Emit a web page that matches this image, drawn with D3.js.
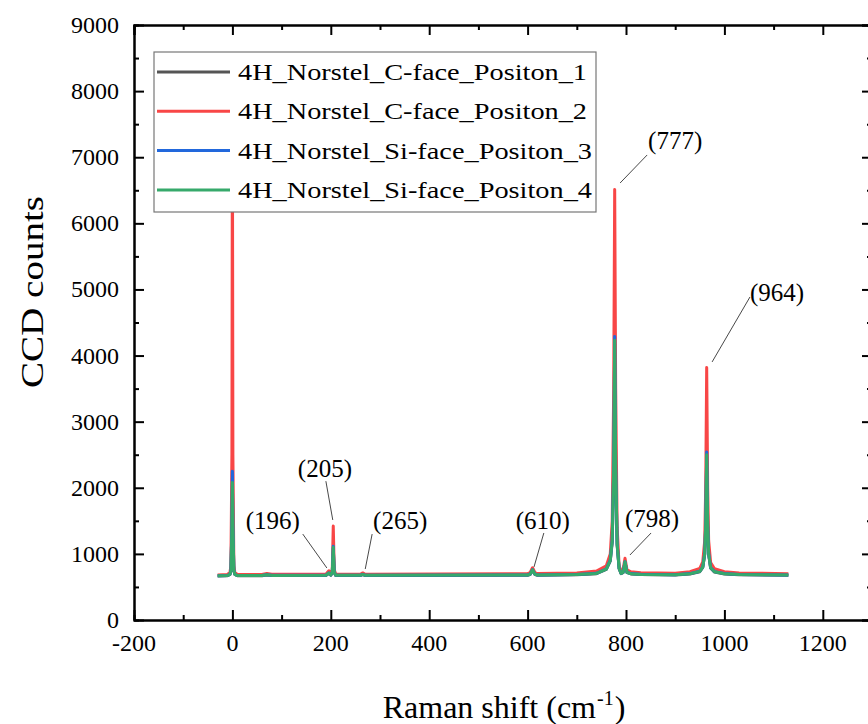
<!DOCTYPE html>
<html>
<head>
<meta charset="utf-8">
<script src="https://cdn.jsdelivr.net/npm/d3@7"></script>
</head>
<body style="margin:0">
<script>
// Raman shift samples (cm-1), shared by all four spectra
const shift = [-30, -10, -5, -3, -1, 0, 1, 3, 5, 10, 60, 70, 80, 190, 196, 200, 203, 205, 207, 210,
  260, 265, 270, 600, 605, 610, 615, 620, 700, 740, 760, 768, 772, 775, 777, 779, 782, 786, 790, 794,
  798, 802, 810, 830, 900, 930, 950, 956, 960, 962, 964, 966, 968, 972, 980, 1000, 1030, 1130];

const cFace1 = [666, 670, 688, 745, 1380, 2050, 1380, 745, 688, 670, 670, 682, 672, 673, 705, 677, 715, 1080, 715, 673,
  673, 686, 673, 677, 687, 752, 687, 677, 684, 700, 765, 890, 1180, 2260, 4180, 2260, 1130, 775, 702, 716,
  872, 716, 697, 687, 680, 697, 730, 795, 990, 1420, 2480, 1420, 990, 785, 725, 697, 684, 677];
const cFace2 = [680, 690, 720, 820, 2500, 7800, 2500, 820, 720, 690, 690, 705, 692, 694, 745, 705, 760, 1420, 760, 696,
  692, 712, 692, 700, 715, 790, 715, 702, 712, 740, 820, 1000, 1500, 3500, 6510, 3500, 1400, 820, 740, 760,
  935, 760, 730, 715, 706, 730, 780, 880, 1200, 2000, 3820, 2000, 1200, 870, 775, 730, 712, 700];
const siFace3 = [668, 672, 692, 755, 1450, 2250, 1450, 755, 692, 672, 672, 686, 676, 677, 712, 681, 722, 1115, 722, 677,
  677, 691, 677, 681, 691, 762, 691, 681, 688, 706, 772, 905, 1210, 2330, 4290, 2330, 1160, 782, 706, 722,
  882, 722, 702, 692, 685, 702, 737, 803, 1005, 1460, 2540, 1460, 1005, 792, 732, 702, 689, 682];
const siFace4 = [668, 672, 690, 750, 1400, 2080, 1400, 750, 690, 672, 672, 685, 675, 676, 710, 680, 720, 1100, 720, 676,
  676, 690, 676, 680, 690, 760, 690, 680, 687, 705, 770, 900, 1200, 2300, 4230, 2300, 1150, 780, 705, 720,
  880, 720, 700, 690, 684, 700, 735, 800, 1000, 1450, 2500, 1450, 1000, 790, 730, 700, 688, 680];

const seriesNames = ["4H_Norstel_C-face_Positon_1", "4H_Norstel_C-face_Positon_2",
  "4H_Norstel_Si-face_Positon_3", "4H_Norstel_Si-face_Positon_4"];
const seriesValues = [cFace1, cFace2, siFace3, siFace4];
const seriesColors = ["#555555", "#f84646", "#2268dc", "#36a96b"];

const xTicks = [-200, 0, 200, 400, 600, 800, 1000, 1200];
const xMinor = [-100, 100, 300, 500, 700, 900, 1100, 1300];
const yTicks = [0, 1000, 2000, 3000, 4000, 5000, 6000, 7000, 8000, 9000];
const yMinor = [500, 1500, 2500, 3500, 4500, 5500, 6500, 7500, 8500];

// peak annotations: label, label anchor (data), leader line start -> end (data)
const peakLabels = ["(196)", "(205)", "(265)", "(610)", "(777)", "(798)", "(964)"];
const labelX = [82, 188, 341, 631, 900, 853, 1107];
const labelY = [1513, 2300, 1513, 1513, 7260, 1543, 4960];
const leadX1 = [143, 190, 284, 633, 843, 851, 1052];
const leadY1 = [1300, 2100, 1300, 1316, 7034, 1316, 4886];
const leadX2 = [192, 204, 270, 613, 788, 808, 975];
const leadY2 = [787, 1513, 771, 802, 6610, 983, 3903];

const FONT = "Times New Roman";
const width = 868, height = 724;
const plotL = 134, plotR = 872, plotT = 25, plotB = 620;

const svg = d3.select("body").append("svg")
  .attr("width", width).attr("height", height);

const x = d3.scaleLinear().domain([-200, 1300]).range([plotL, plotR]);
const y = d3.scaleLinear().domain([0, 9000]).range([plotB, plotT]);

function label(str, px, py, size, anchor) {
  return svg.append("text")
    .attr("x", px).attr("y", py)
    .attr("font-family", FONT).attr("font-size", size)
    .attr("text-anchor", anchor || "start")
    .text(str);
}

svg.append("defs").append("clipPath").attr("id", "plot-clip")
  .append("rect").attr("x", plotL).attr("y", plotT)
  .attr("width", plotR - plotL).attr("height", plotB - plotT);

// spectra
const line = d3.line().x(d => x(d[0])).y(d => y(d[1]));
const lines = svg.append("g").attr("clip-path", "url(#plot-clip)");
seriesValues.forEach((vals, i) => {
  lines.append("path")
    .datum(d3.zip(shift, vals))
    .attr("d", line)
    .attr("fill", "none")
    .attr("stroke", seriesColors[i])
    .attr("stroke-width", 3)
    .attr("stroke-linejoin", "round");
});

// axes, ticks pointing inward (labels drawn separately below)
function styleAxis(g) {
  g.selectAll("path.domain").attr("stroke-width", 2);
  g.selectAll(".tick line").attr("stroke-width", 2);
  g.selectAll(".tick text").remove();
}

svg.append("g").attr("transform", `translate(0,${plotB})`)
  .call(d3.axisBottom(x).tickValues(xTicks).tickSize(-10).tickSizeOuter(0).tickFormat(""))
  .call(styleAxis);
svg.append("g").attr("transform", `translate(0,${plotB})`)
  .call(d3.axisBottom(x).tickValues(xMinor).tickSize(-5).tickFormat(""))
  .call(styleAxis);
svg.append("g").attr("transform", `translate(0,${plotT})`)
  .call(d3.axisTop(x).tickValues(xTicks).tickSize(-10).tickFormat(""))
  .call(styleAxis);
svg.append("g").attr("transform", `translate(0,${plotT})`)
  .call(d3.axisTop(x).tickValues(xMinor).tickSize(-5).tickFormat(""))
  .call(styleAxis);

svg.append("g").attr("transform", `translate(${plotL},0)`)
  .call(d3.axisLeft(y).tickValues(yTicks).tickSize(-10).tickSizeOuter(0).tickFormat(""))
  .call(styleAxis);
svg.append("g").attr("transform", `translate(${plotL},0)`)
  .call(d3.axisLeft(y).tickValues(yMinor).tickSize(-5).tickFormat(""))
  .call(styleAxis);
svg.append("g").attr("transform", `translate(${plotR},0)`)
  .call(d3.axisRight(y).tickValues(yTicks).tickSize(-10).tickFormat(""))
  .call(styleAxis);
svg.append("g").attr("transform", `translate(${plotR},0)`)
  .call(d3.axisRight(y).tickValues(yMinor).tickSize(-5).tickFormat(""))
  .call(styleAxis);

// tick labels
xTicks.forEach(d => label(String(d), x(d), plotB + 31, 24, "middle"));
yTicks.forEach(d => label(String(d), plotL - 15, y(d) + 8, 24, "end"));

// peak labels + leader lines
peakLabels.forEach((lab, i) => {
  svg.append("line")
    .attr("x1", x(leadX1[i])).attr("y1", y(leadY1[i]))
    .attr("x2", x(leadX2[i])).attr("y2", y(leadY2[i]))
    .attr("stroke", "#333").attr("stroke-width", 0.9);
  label(lab, x(labelX[i]), y(labelY[i]) + 9, 25, "middle");
});

// legend
const legendW = [349, 349, 354, 354];
svg.append("rect")
  .attr("x", 154).attr("y", 52)
  .attr("width", 442).attr("height", 160)
  .attr("fill", "#fff").attr("stroke", "#777").attr("stroke-width", 1.2);
seriesNames.forEach((name, i) => {
  const ry = 72 + i * 39.3;
  svg.append("line").attr("x1", 157).attr("x2", 230).attr("y1", ry).attr("y2", ry)
    .attr("stroke", seriesColors[i]).attr("stroke-width", 3);
  label(name, 238, ry + 8, 24)
    .attr("textLength", legendW[i]).attr("lengthAdjust", "spacingAndGlyphs");
});

// axis titles
svg.append("text")
  .attr("transform", "translate(43,292) rotate(-90)")
  .attr("text-anchor", "middle")
  .attr("font-family", FONT).attr("font-size", 32)
  .attr("textLength", 192).attr("lengthAdjust", "spacingAndGlyphs")
  .text("CCD counts");

const t1 = label("Raman shift (cm", 0, 718, 32);
const t2 = label("-1", 0, 705, 20);
const t3 = label(")", 0, 718, 32);
const w1 = t1.node().getComputedTextLength();
const w2 = t2.node().getComputedTextLength();
const w3 = t3.node().getComputedTextLength();
const x0 = 503 - (w1 + w2 + w3) / 2;
t1.attr("x", x0);
t2.attr("x", x0 + w1 + 1);
t3.attr("x", x0 + w1 + w2 + 2);
</script>
</body>
</html>
